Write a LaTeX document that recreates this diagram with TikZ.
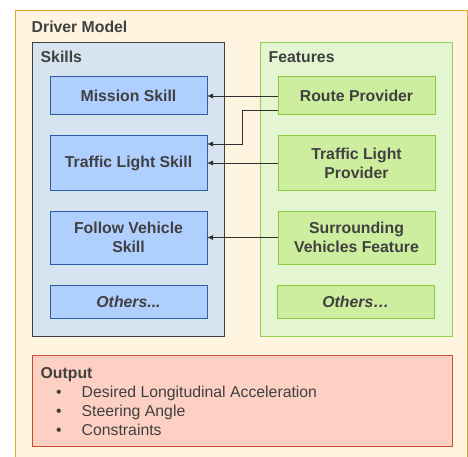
\documentclass[tikz,border=0pt]{standalone}
\usepackage{fontspec}
\setmainfont{Liberation Sans}
\usetikzlibrary{arrows.meta}
\definecolor{txt}{HTML}{404040}
\definecolor{creamfill}{HTML}{FEF4E0}
\definecolor{creamline}{HTML}{E0A428}
\definecolor{skillsfill}{HTML}{D7E3EF}
\definecolor{skillsline}{HTML}{404040}
\definecolor{skillfill}{HTML}{AFCFFF}
\definecolor{skillline}{HTML}{2C5DA8}
\definecolor{featfill}{HTML}{E3F6D1}
\definecolor{featline}{HTML}{92D050}
\definecolor{featboxfill}{HTML}{CDEE9E}
\definecolor{featboxline}{HTML}{8CC840}
\definecolor{outfill}{HTML}{FDD0C4}
\definecolor{outline}{HTML}{C8502C}
\definecolor{arrowcol}{HTML}{303030}
\newcommand{\dmfont}{\fontsize{15.8}{19}\selectfont}
\begin{document}
\begin{tikzpicture}[x=1pt,y=-1pt,
  box/.style={draw, line width=1pt, inner sep=0pt, outer sep=0pt, anchor=north west,
    text=txt, font=\dmfont\bfseries, align=center},
  container/.style={box},
  skillbox/.style={box, fill=skillfill, draw=skillline, minimum width=157pt},
  featbox/.style={box, fill=featboxfill, draw=featboxline, minimum width=157pt},
  title/.style={anchor=base west, inner sep=0pt, text=txt, font=\dmfont\bfseries},
  outline text/.style={anchor=base west, inner sep=0pt, text=txt, font=\dmfont},
  arr/.style={draw=arrowcol, line width=0.9pt, -{Latex[length=6pt,width=5pt]}}]
\useasboundingbox (0,0) rectangle (468,457);
\clip (0,0) rectangle (468,457);

% outer frame and the two group containers
\node[container, fill=creamfill, draw=creamline, minimum width=452.3pt, minimum height=470pt] (outer) at (15,10.5) {};
\node[title] (dmlabel) at (31.5,32.7) {Driver Model};

\node[container, fill=skillsfill, draw=skillsline, minimum width=191.7pt, minimum height=293.3pt] (skills) at (32.3,42.7) {};
\node[title] (skillslabel) at (40.5,62.7) {Skills};

\node[container, fill=featfill, draw=featline, minimum width=191.3pt, minimum height=293.3pt] (features) at (260.7,42.7) {};
\node[title] (featlabel) at (268.5,62.7) {Features};

% skills
\node[skillbox, minimum height=38pt] (mission) at (50,77) {Mission Skill};
\node[skillbox, minimum height=54pt] (tlskill) at (50,136) {Traffic Light Skill};
\node[skillbox, minimum height=53pt] (follow) at (50,211) {Follow Vehicle\\Skill};
\node[skillbox, minimum height=33pt] (othersS) at (50,285) {\itshape Others...};

% features
\node[featbox, minimum height=38pt] (route) at (278,77) {Route Provider};
\node[featbox, minimum height=54pt] (tlprov) at (278,136) {Traffic Light\\Provider};
\node[featbox, minimum height=53pt] (surr) at (278,211) {Surrounding\\Vehicles Feature};
\node[featbox, minimum height=33pt] (othersF) at (277.3,285) {\itshape Others…};

% output block
\node[container, fill=outfill, draw=outline, minimum width=419.7pt, minimum height=90.7pt] (output) at (32.3,355.3) {};
\node[title] (outlabel) at (40.5,378.7) {Output};
\node[outline text] (out1) at (56,397.7) {\makebox[25.5pt][l]{•}Desired Longitudinal Acceleration};
\node[outline text] (out2) at (56,416.7) {\makebox[25.5pt][l]{•}Steering Angle};
\node[outline text] (out3) at (56,435.7) {\makebox[25.5pt][l]{•}Constraints};

% connections from features to skills
\draw[arr] (route.west) -- (mission.east);
\draw[arr] ([yshift=5pt]route.south west) -- ++(-35.7,0) |- ([yshift=19pt]tlskill.east);
\draw[arr] (tlprov.west) -- (tlskill.east);
\draw[arr] (surr.west) -- (follow.east);
\end{tikzpicture}
\end{document}
